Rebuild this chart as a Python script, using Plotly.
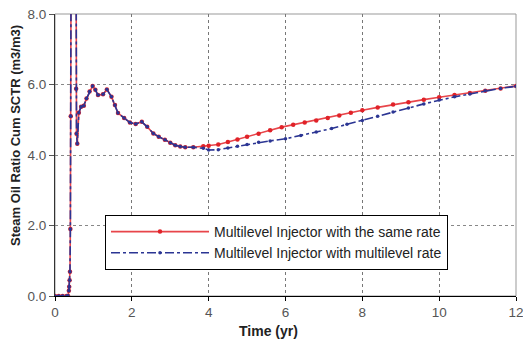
import plotly.graph_objects as go

# shared early-time portion (both cases coincide)
early_x = [0.0, 0.1, 0.2, 0.3, 0.34, 0.36, 0.37, 0.38, 0.39, 0.40, 0.41, 0.43,
           0.54, 0.55, 0.56, 0.58, 0.62, 0.68, 0.75, 0.82, 0.90, 0.98, 1.05, 1.12,
           1.25, 1.35, 1.47, 1.56, 1.64, 1.80, 1.95, 2.10, 2.26, 2.40, 2.56, 2.70,
           2.86, 3.00, 3.13, 3.26, 3.39, 3.60]
early_y = [0.0, 0.0, 0.0, 0.0, 0.0, 0.15, 0.26, 0.45, 0.69, 1.9, 5.1, 14.0,
           14.0, 5.88, 4.6, 4.32, 5.2, 5.37, 5.4, 5.6, 5.8, 5.96, 5.85, 5.70,
           5.72, 5.86, 5.65, 5.42, 5.19, 5.05, 4.92, 4.88, 4.94, 4.80, 4.61, 4.52,
           4.43, 4.35, 4.28, 4.24, 4.22, 4.22]

same_x = [3.86, 4.0, 4.25, 4.5, 4.75, 5.0, 5.3, 5.6, 5.9, 6.2, 6.5, 6.8, 7.1, 7.4,
          7.7, 8.0, 8.4, 8.8, 9.2, 9.6, 10.0, 10.4, 10.8, 11.2, 11.6, 12.0]
same_y = [4.25, 4.26, 4.30, 4.37, 4.44, 4.52, 4.60, 4.70, 4.79, 4.86, 4.92, 4.98,
          5.05, 5.12, 5.20, 5.27, 5.35, 5.43, 5.50, 5.57, 5.64, 5.70, 5.76, 5.82,
          5.89, 5.96]

multi_x = [3.86, 4.0, 4.25, 4.5, 4.75, 5.0, 5.3, 5.6, 6.0, 6.4, 6.8, 7.2, 7.6, 8.0,
           8.4, 8.8, 9.2, 9.6, 10.0, 10.4, 10.8, 11.2, 11.6, 12.0]
multi_y = [4.19, 4.14, 4.15, 4.20, 4.25, 4.30, 4.36, 4.40, 4.46, 4.55, 4.65, 4.75,
           4.87, 4.98, 5.10, 5.22, 5.33, 5.45, 5.56, 5.65, 5.73, 5.82, 5.89, 5.95]

names = ["Multilevel Injector with the same rate",
         "Multilevel Injector with multilevel rate"]

x_ticks = [0, 2, 4, 6, 8, 10, 12]
y_ticks = [0, 2, 4, 6, 8]
y_tick_labels = ["0.0", "2.0", "4.0", "6.0", "8.0"]

W, H = 523, 342
ML, MR, MT, MB = 55, 7, 14, 46

fig = go.Figure()
fig.add_trace(go.Scatter(
    x=early_x + same_x, y=early_y + same_y, name=names[0], mode="lines+markers",
    line=dict(color="#e8454a", width=1.6),
    marker=dict(color="#e02228", size=4.5, symbol="circle"),
))
fig.add_trace(go.Scatter(
    x=early_x + multi_x, y=early_y + multi_y, name=names[1], mode="lines+markers",
    line=dict(color="#2b3593", width=1.6, dash="dashdot"),
    marker=dict(color="#2b3593", size=3.5, symbol="circle"),
))

fig.update_layout(
    width=W, height=H,
    margin=dict(l=ML, r=MR, t=MT, b=MB, autoexpand=False),
    paper_bgcolor="white", plot_bgcolor="white",
    font=dict(family="Liberation Sans, Arial, sans-serif", size=13, color="#222"),
    showlegend=True,
    legend=dict(
        x=(105 - ML) / (W - ML - MR), y=(H - MB - 215) / (H - MT - MB),
        xanchor="left", yanchor="top",
        bgcolor="white", bordercolor="black", borderwidth=1,
        font=dict(size=14, color="#222"),
        itemwidth=98, tracegroupgap=0,
    ),
    annotations=[
        dict(text="<b>Steam Oil Ratio Cum SCTR (m3/m3)</b>", textangle=-90,
             xref="paper", yref="paper",
             x=(15 - ML) / (W - ML - MR), y=(H - MB - 136) / (H - MT - MB),
             xanchor="center", yanchor="middle", showarrow=False,
             font=dict(size=13, color="#222")),
        dict(text="<b>Time (yr)</b>",
             xref="paper", yref="paper",
             x=(268 - ML) / (W - ML - MR), y=(H - MB - 331) / (H - MT - MB),
             xanchor="center", yanchor="middle", showarrow=False,
             font=dict(size=14, color="#222")),
    ],
)
fig.update_xaxes(
    range=[0, 12], tickvals=x_ticks, ticks="outside", ticklen=4, tickcolor="black",
    tickfont=dict(size=13.5, color="#555"), automargin=False, ticklabeloverflow="allow",
    showgrid=True, gridcolor="#777", griddash="dot", gridwidth=1,
    showline=True, linecolor="black", linewidth=1.3, mirror=False, zeroline=False,
)
fig.update_yaxes(
    range=[0, 8], tickvals=y_ticks, ticktext=y_tick_labels, ticks="outside", ticklen=5,
    tickcolor="#555", tickfont=dict(size=13.5, color="#555"), automargin=False,
    ticklabeloverflow="allow",
    showgrid=True, gridcolor="#888", griddash="dot", gridwidth=1,
    showline=True, linecolor="#333", linewidth=1.2, mirror=False, zeroline=False,
)
# gray frame on top and right
fig.add_shape(type="rect", xref="paper", yref="paper", x0=0, y0=0, x1=1, y1=1,
              line=dict(color="#999", width=1), layer="below")

fig.write_html("out.html", config={"displayModeBar": False},
               post_script="document.body.style.margin='0';document.body.style.padding='0';")
